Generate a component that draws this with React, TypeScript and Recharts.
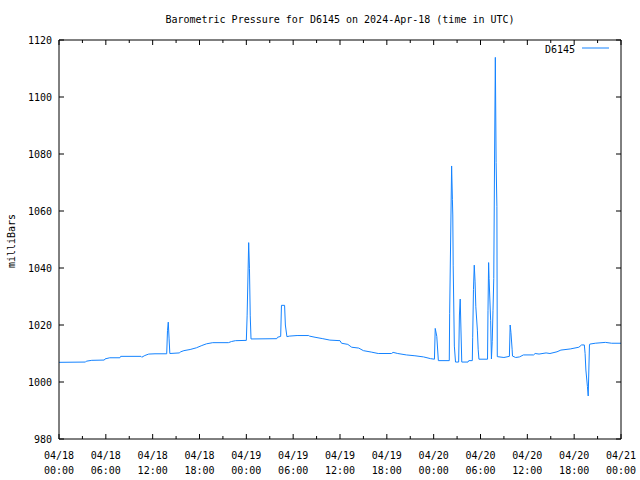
import React from 'react';
import { LineChart, Line, XAxis, YAxis, Legend } from 'recharts';

// hours since 2024-04-18 00:00 UTC
const hours = [
  0, 3.4, 3.5, 4.2, 5.8, 5.9, 6.5, 7.8, 7.9, 10.5, 10.6, 11.0, 11.5, 12.3, 13.8, 13.9, 14.0, 14.1, 14.2,
  15.4, 15.6, 16.0, 16.8, 17.6, 18.3, 18.9, 19.7, 21.7, 22.1, 22.6, 24.0, 24.1, 24.3, 24.4, 24.5, 24.6,
  27.9, 28.0, 28.4, 28.5, 28.9, 29.0, 29.2, 29.5, 30.5, 32.0, 32.1, 32.8, 33.8, 34.7, 36.0, 36.2, 37.0,
  37.5, 38.4, 39.0, 40.0, 40.9, 42.6, 42.8, 43.4, 44.5, 45.6, 46.7, 47.6, 48.1, 48.2, 48.4, 48.6, 50.0,
  50.05, 50.3, 50.4, 50.45, 50.5, 50.65, 50.8, 51.2, 51.3, 51.4, 51.5, 51.6, 52.4, 52.5, 52.95, 53.0,
  53.1, 53.2, 53.3, 53.4, 53.6, 53.7, 53.8, 54.9, 54.96, 55.04, 55.1, 55.3, 55.4, 55.5, 55.6, 55.7,
  55.8, 55.9, 56.0, 56.1, 56.15, 57.0, 57.7, 57.8, 57.9, 58.05, 58.1, 58.5, 59.0, 59.5, 60.8, 61.0,
  61.5, 62.4, 62.9, 63.8, 64.3, 65.5, 66.6, 66.95, 67.3, 67.4, 67.5, 67.7, 67.8, 67.96, 68.0, 68.7,
  70.0, 70.8, 72,
];

const pressure = [
  1006.9, 1007.0, 1007.3, 1007.6, 1007.7, 1008.1, 1008.5, 1008.5, 1009.0, 1009.0, 1008.7, 1009.3, 1009.8,
  1009.9, 1009.9, 1018.0, 1021.0, 1015.4, 1010.0, 1010.2, 1010.6, 1011.0, 1011.4, 1012.0, 1012.8, 1013.4,
  1013.8, 1013.8, 1014.2, 1014.5, 1014.6, 1023.2, 1048.9, 1039.9, 1023.2, 1015.1, 1015.2, 1015.7, 1016.0,
  1026.9, 1026.9, 1020.0, 1015.9, 1016.1, 1016.3, 1016.3, 1016.1, 1015.7, 1015.2, 1014.7, 1014.5, 1013.6,
  1013.2, 1012.2, 1011.9, 1011.0, 1010.5, 1010.0, 1010.0, 1010.4, 1010.0, 1009.5, 1009.2, 1008.8, 1008.2,
  1008.0, 1018.8, 1016.0, 1007.5, 1007.5, 1024.1, 1075.8, 1064.1, 1058.6, 1041.0, 1012.6, 1007.0, 1007.0,
  1023.5, 1029.1, 1017.9, 1007.0, 1007.0, 1007.5, 1007.5, 1015.7, 1032.5, 1041.0, 1035.4, 1026.4, 1018.2,
  1011.5, 1008.0, 1008.0, 1025.0, 1041.9, 1036.3, 1021.5, 1008.1, 1014.2, 1025.0, 1036.3, 1077.9, 1113.9,
  1077.0, 1061.5, 1008.9, 1008.6, 1009.0, 1020.0, 1017.3, 1011.5, 1009.1, 1008.6, 1008.8, 1009.5, 1009.5,
  1010.0, 1009.8, 1010.2, 1010.0, 1010.6, 1011.2, 1011.6, 1012.2, 1013.0, 1013.0, 1010.0, 1004.2, 998.4,
  995.1, 1013.0, 1013.3, 1013.6, 1013.9, 1013.6, 1013.6,
];

const xTicks = [0, 3, 6, 9, 12, 15, 18, 21, 24, 27, 30, 33, 36, 39, 42, 45, 48, 51, 54, 57, 60, 63, 66, 69, 72];
const dayLabels = ['04/18', '04/19', '04/20', '04/21'];
const yTicks = [980, 1000, 1020, 1040, 1060, 1080, 1100, 1120];

const data = hours.map((h, i) => ({ h, p: pressure[i] }));

const FONT = '"DejaVu Sans Mono", monospace';
const LINE_COLOR = '#1483ff';

const timeLabel = (h: number) => {
  const day = dayLabels[Math.floor(h / 24)];
  const hh = String(h % 24).padStart(2, '0');
  return [day, `${hh}:00`];
};

const BottomTick = (props: any) => {
  const { x, y, payload } = props;
  const major = payload.value % 6 === 0;
  const [d, t] = timeLabel(payload.value);
  return (
    <g>
      <line x1={x} x2={x} y1={y} y2={y - (major ? 5 : 3)} stroke="#000" />
      {major && (
        <text x={x} y={y + 20} textAnchor="middle" fontFamily={FONT} fontSize={10} fill="#000">
          <tspan x={x}>{d}</tspan>
          <tspan x={x} dy={15}>{t}</tspan>
        </text>
      )}
    </g>
  );
};

const TopTick = (props: any) => {
  const { x, y, payload } = props;
  const major = payload.value % 6 === 0;
  return <line x1={x} x2={x} y1={y} y2={y + (major ? 5 : 3)} stroke="#000" />;
};

const LeftTick = (props: any) => {
  const { x, y, payload } = props;
  return (
    <g>
      <line x1={x} x2={x + 5} y1={y} y2={y} stroke="#000" />
      <text x={x - 7} y={y + 4} textAnchor="end" fontFamily={FONT} fontSize={10} fill="#000">
        {payload.value}
      </text>
    </g>
  );
};

const RightTick = (props: any) => {
  const { x, y } = props;
  return <line x1={x} x2={x - 5} y1={y} y2={y} stroke="#000" />;
};

const TitleLabel = () => (
  <text x={340} y={23} textAnchor="middle" fontFamily={FONT} fontSize={10} fill="#000">
    Barometric Pressure for D6145 on 2024-Apr-18 (time in UTC)
  </text>
);

const YTitle = () => (
  <text x={15} y={241} transform="rotate(-90 15 241)" textAnchor="middle" fontFamily={FONT} fontSize={10} fill="#000">
    milliBars
  </text>
);

const renderLegend = () => (
  <svg width={100} height={16}>
    <text x={55} y={12} textAnchor="end" fontFamily={FONT} fontSize={10} fill="#000">D6145</text>
    <line x1={62} x2={89} y1={7} y2={7} stroke={LINE_COLOR} />
  </svg>
);

export default function App() {
  return (
    <div style={{ position: 'absolute', left: 0, top: 0, background: '#fff' }}>
      <LineChart width={640} height={480} data={data} margin={{ top: 39, right: 18, bottom: 0, left: 0 }}>
        <XAxis
          dataKey="h"
          type="number"
          domain={[0, 72]}
          ticks={xTicks}
          interval={0}
          height={41}
          tickSize={0}
          tickMargin={0}
          tickLine={false}
          tick={<BottomTick />}
          axisLine={{ stroke: '#000' }}
        />
        <XAxis
          xAxisId="top"
          orientation="top"
          dataKey="h"
          type="number"
          domain={[0, 72]}
          ticks={xTicks}
          interval={0}
          height={1}
          tickSize={0}
          tickMargin={0}
          tickLine={false}
          tick={<TopTick />}
          axisLine={{ stroke: '#000' }}
          label={<TitleLabel />}
        />
        <YAxis
          type="number"
          domain={[980, 1120]}
          ticks={yTicks}
          interval={0}
          width={59}
          tickSize={0}
          tickMargin={0}
          tickLine={false}
          tick={<LeftTick />}
          axisLine={{ stroke: '#000' }}
          allowDataOverflow
          label={<YTitle />}
        />
        <YAxis
          yAxisId="right"
          orientation="right"
          type="number"
          domain={[980, 1120]}
          ticks={yTicks}
          interval={0}
          width={1}
          tickSize={0}
          tickMargin={0}
          tickLine={false}
          tick={<RightTick />}
          axisLine={{ stroke: '#000' }}
          allowDataOverflow
        />
        <Legend
          layout="vertical"
          align="center"
          verticalAlign="middle"
          wrapperStyle={{ position: 'absolute', left: 520, top: 41, width: 100, height: 16 }}
          content={renderLegend}
        />
        <Line
          dataKey="p"
          type="linear"
          stroke={LINE_COLOR}
          strokeWidth={1}
          dot={false}
          activeDot={false}
          isAnimationActive={false}
        />
      </LineChart>
    </div>
  );
}
